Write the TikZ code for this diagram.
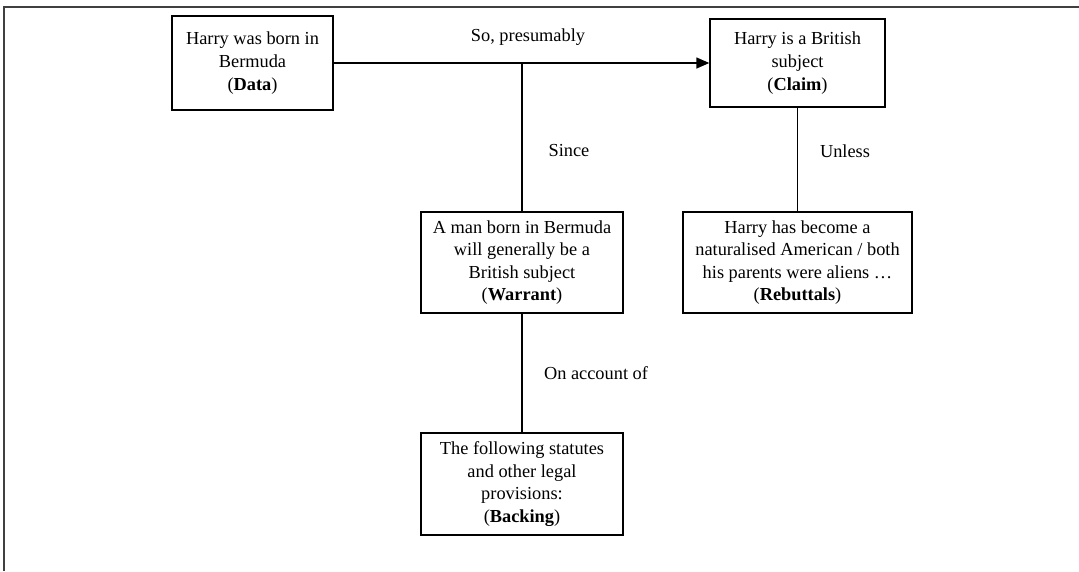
\documentclass[tikz,border=0pt]{standalone}
\usepackage{fontspec}
\setmainfont{Liberation Serif}
\usetikzlibrary{arrows.meta}
\begin{document}
\begin{tikzpicture}[x=1pt,y=-1pt,
  box/.style={draw=black,line width=1.4pt,rectangle,align=center,inner sep=0pt,
    font=\fontsize{18.35}{22.6}\selectfont},
  lbl/.style={inner sep=0pt,font=\fontsize{18.35}{22.6}\selectfont},
  conn/.style={draw=black,line width=1.4pt}]
\useasboundingbox (0,0) rectangle (1079,571);
\draw[black!75,line width=1.5pt] (4,571) -- (4,7) -- (1079,7);
\node[box,minimum width=161pt,minimum height=94pt] (data) at (252.5,63) {Harry was born in\\Bermuda\\(\textbf{Data})};
\node[box,minimum width=175pt,minimum height=88pt] (claim) at (797.5,63) {Harry is a British\\subject\\(\textbf{Claim})};
\node[box,minimum width=202pt,minimum height=101pt] (warrant) at (522,262.5) {A man born in Bermuda\\will generally be a\\British subject\\(\textbf{Warrant})};
\node[box,minimum width=202pt,minimum height=102pt] (backing) at (522,484) {The following statutes\\and other legal\\provisions:\\(\textbf{Backing})};
\node[box,minimum width=229pt,minimum height=101pt] (rebut) at (797.5,262.5) {Harry has become a\\naturalised American / both\\his parents were aliens \dots\\(\textbf{Rebuttals})};
\draw[conn,-{Triangle[length=13pt,width=11pt]}] (data.east) -- (claim.west);
\draw[conn] (warrant.north) -- (warrant.north |- data.east);
\draw[conn] (claim.south) -- (rebut.north);
\draw[conn] (warrant.south) -- (backing.north);
\node[lbl] (l1) at (528,37) {So, presumably};
\node[lbl] (l2) at (569,151) {Since};
\node[lbl] (l3) at (845,151) {Unless};
\node[lbl] (l4) at (596,373) {On account of};
\end{tikzpicture}
\end{document}
